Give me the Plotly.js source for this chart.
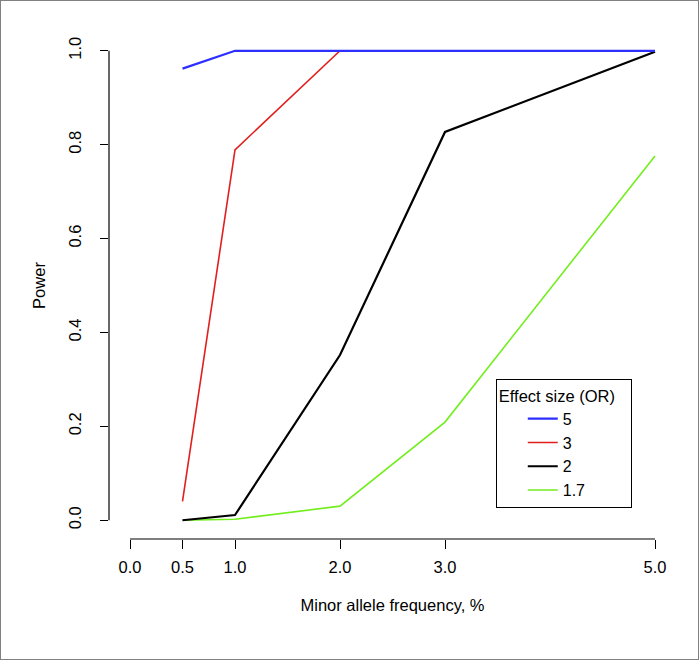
<!DOCTYPE html>
<html>
<head>
<meta charset="utf-8">
<script src="https://cdn.plot.ly/plotly-3.0.1.min.js"></script>
<style>
html,body{margin:0;padding:0;background:#fff;}
#frame{width:697px;height:658px;border:1px solid #808080;}
#chart{width:697px;height:658px;}
</style>
</head>
<body>
<div id="frame"><div id="chart"></div></div>
<script>
// Minor allele frequency (%)
const maf = [0.5, 1.0, 2.0, 3.0, 5.0];
// Power for each effect size (odds ratio)
const power_or5   = [0.962, 1.000, 1.000, 1.000, 1.000];
const power_or3   = [0.040, 0.789, 1.000, 1.000, 1.000];
const power_or2   = [0.000, 0.011, 0.352, 0.827, 0.998];
const power_or1_7 = [0.000, 0.002, 0.030, 0.209, 0.776];
const seriesNames = ["5", "3", "2", "1.7"];
const xTickVals = [0, 0.5, 1, 2, 3, 5];
const xTickText = ["0.0", "0.5", "1.0", "2.0", "3.0", "5.0"];
const yTickVals = [0, 0.2, 0.4, 0.6, 0.8, 1.0];
const yTickText = ["0.0", "0.2", "0.4", "0.6", "0.8", "1.0"];

const FONT = "Liberation Sans, Arial, Helvetica, sans-serif";
const FS = 16.5;

const traces = [
  {x: maf, y: power_or1_7, name: seriesNames[3], mode: "lines", line: {color: "#72ee1e", width: 1.6}},
  {x: maf, y: power_or2,   name: seriesNames[2], mode: "lines", line: {color: "#000000", width: 2.2}},
  {x: maf, y: power_or3,   name: seriesNames[1], mode: "lines", line: {color: "#e0201e", width: 1.6}},
  {x: maf, y: power_or5,   name: seriesNames[0], mode: "lines", line: {color: "#2e2eff", width: 2.2}}
];

const layout = {
  width: 697, height: 658,
  margin: {l: 108, r: 22, t: 31, b: 120, pad: 0},
  paper_bgcolor: "#ffffff", plot_bgcolor: "#ffffff",
  font: {family: FONT, size: FS, color: "#000"},
  showlegend: true,
  legend: {
    title: {text: "Effect size (OR)\u00a0\u00a0\u00a0", font: {family: FONT, size: FS, color: "#000"}},
    traceorder: "reversed",
    indentation: 26,
    x: 0.922, xanchor: "right", y: 0.315, yanchor: "top",
    bordercolor: "#000", borderwidth: 1, bgcolor: "#fff",
    font: {family: FONT, size: 16, color: "#000"},
    tracegroupgap: 0, itemwidth: 30
  },
  xaxis: {
    range: [-0.2, 5.2], autorange: false,
    tickmode: "array", tickvals: xTickVals, ticktext: xTickText,
    ticks: "outside", ticklen: 9, tickwidth: 1, tickcolor: "#000",
    ticklabelstandoff: 4,
    showline: false, showgrid: false, zeroline: false,
    tickfont: {family: FONT, size: FS, color: "#000"},
    title: {text: "Minor allele frequency, %", font: {family: FONT, size: FS, color: "#000"}, standoff: 24}
  },
  yaxis: {
    range: [-0.04, 1.04], autorange: false,
    tickmode: "array", tickvals: yTickVals, ticktext: yTickText,
    tickangle: -90,
    ticks: "outside", ticklen: 8, tickwidth: 1, tickcolor: "#000",
    ticklabelstandoff: 12,
    showline: false, showgrid: false, zeroline: false,
    tickfont: {family: FONT, size: FS, color: "#000"},
    title: {text: "Power", font: {family: FONT, size: FS, color: "#000"}, standoff: 16}
  },
  shapes: [
    {type: "line", xref: "x", yref: "paper", x0: xTickVals[0], x1: xTickVals[xTickVals.length-1], y0: 0, y1: 0, line: {color: "#000", width: 1.2}},
    {type: "line", xref: "paper", yref: "y", x0: 0, x1: 0, y0: yTickVals[0], y1: yTickVals[yTickVals.length-1], line: {color: "#000", width: 1.2}}
  ]
};

Plotly.newPlot("chart", traces, layout, {displayModeBar: false, staticPlot: true});
</script>
</body>
</html>
